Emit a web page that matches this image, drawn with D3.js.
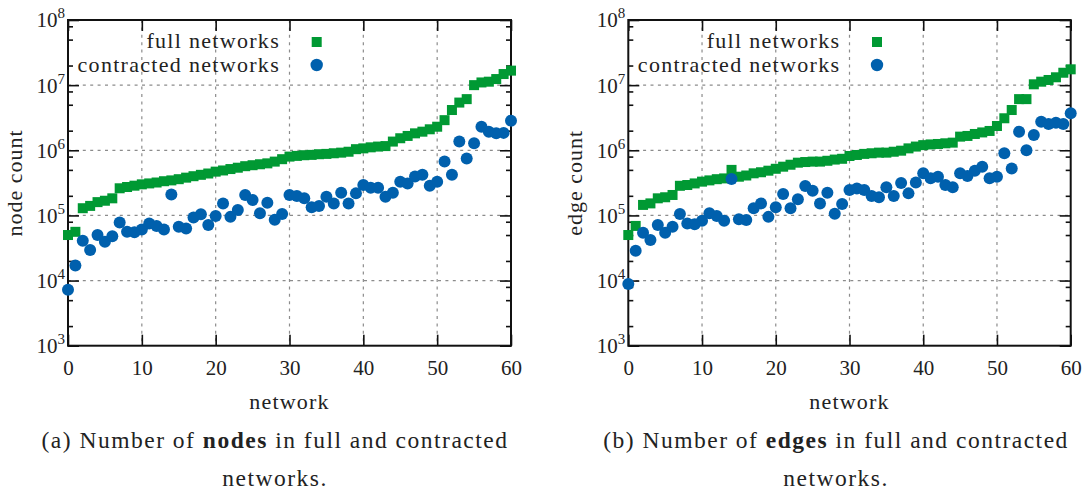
<!DOCTYPE html>
<html lang="en">
  <head>
    <meta charset="UTF-8" />
    <title>Network sizes</title>
    <style>
      body { margin: 0; background: #fff; }
      text { font-family: "Liberation Serif", "DejaVu Serif", serif; fill: #222; }
    </style>
  </head>
  <body>
    <svg id="chart" width="1085" height="495"></svg>

    <script src="https://d3js.org/d3.v7.min.js"></script>
    <script>
      // network index 0..60
      const networks = d3.range(61);

      const fullNodes = [
        5.0e4, 5.6e4, 1.29e5, 1.4e5, 1.6e5, 1.68e5, 1.83e5, 2.61e5, 2.73e5, 2.86e5,
        3.0e5, 3.1e5, 3.2e5, 3.35e5, 3.45e5, 3.6e5, 3.8e5, 4.0e5, 4.2e5, 4.4e5,
        4.7e5, 4.9e5, 5.15e5, 5.4e5, 5.7e5, 5.9e5, 6.1e5, 6.3e5, 6.7e5, 7.3e5,
        8.0e5, 8.2e5, 8.4e5, 8.5e5, 8.7e5, 8.8e5, 9.0e5, 9.2e5, 9.5e5, 1.04e6,
        1.07e6, 1.11e6, 1.14e6, 1.16e6, 1.36e6, 1.53e6, 1.66e6, 1.82e6, 1.93e6, 2.1e6,
        2.3e6, 2.9e6, 4.15e6, 5.4e6, 6.1e6, 1.0e7, 1.1e7, 1.13e7, 1.24e7, 1.48e7,
        1.67e7
      ];
      const contractedNodes = [
        7.2e3, 1.7e4, 4.1e4, 2.95e4, 5.0e4, 3.95e4, 4.8e4, 7.8e4, 5.6e4, 5.5e4,
        6.1e4, 7.5e4, 6.9e4, 6.1e4, 2.1e5, 6.7e4, 6.3e4, 9.3e4, 1.04e5, 7.1e4,
        9.8e4, 1.53e5, 9.5e4, 1.21e5, 2.06e5, 1.72e5, 1.08e5, 1.57e5, 8.6e4, 1.05e5,
        2.06e5, 1.98e5, 1.83e5, 1.33e5, 1.4e5, 1.94e5, 1.53e5, 2.23e5, 1.53e5, 2.18e5,
        2.93e5, 2.65e5, 2.65e5, 1.94e5, 2.23e5, 3.3e5, 3.1e5, 3.97e5, 4.2e5, 2.85e5,
        3.3e5, 6.7e5, 4.2e5, 1.36e6, 7.5e5, 1.28e6, 2.3e6, 1.93e6, 1.82e6, 1.85e6,
        2.85e6
      ];
      const fullEdges = [
        5.0e4, 6.9e4, 1.45e5, 1.53e5, 1.83e5, 1.9e5, 2.06e5, 2.85e5, 2.93e5, 3.1e5,
        3.3e5, 3.45e5, 3.6e5, 3.7e5, 5.0e5, 3.93e5, 4.1e5, 4.43e5, 4.6e5, 4.86e5,
        5.2e5, 5.6e5, 6.0e5, 6.45e5, 6.6e5, 6.7e5, 6.7e5, 6.9e5, 7.2e5, 7.4e5,
        8.17e5, 8.47e5, 8.8e5, 9.0e5, 9.2e5, 9.2e5, 9.5e5, 9.86e5, 1.07e6, 1.14e6,
        1.2e6, 1.23e6, 1.25e6, 1.28e6, 1.31e6, 1.62e6, 1.66e6, 1.78e6, 1.88e6, 1.98e6,
        2.36e6, 3.1e6, 4.15e6, 6.1e6, 6.1e6, 1.03e7, 1.13e7, 1.2e7, 1.32e7, 1.55e7,
        1.75e7
      ];
      const contractedEdges = [
        8.85e3, 2.88e4, 5.4e4, 4.2e4, 7.1e4, 5.4e4, 6.7e4, 1.05e5, 7.5e4, 7.3e4,
        8.3e4, 1.08e5, 9.8e4, 8.3e4, 3.62e5, 8.7e4, 8.5e4, 1.29e5, 1.53e5, 9.5e4,
        1.33e5, 2.13e5, 1.29e5, 1.77e5, 2.83e5, 2.4e5, 1.53e5, 2.23e5, 1.06e5, 1.5e5,
        2.46e5, 2.6e5, 2.46e5, 1.98e5, 1.9e5, 2.7e5, 1.98e5, 3.15e5, 2.18e5, 3.2e5,
        4.43e5, 3.72e5, 3.93e5, 2.93e5, 2.7e5, 4.43e5, 4.03e5, 4.86e5, 5.6e5, 3.72e5,
        3.93e5, 9.0e5, 5.25e5, 1.93e6, 1.0e6, 1.71e6, 2.75e6, 2.53e6, 2.65e6, 2.53e6,
        3.69e6
      ];

      const xTicks = [0, 10, 20, 30, 40, 50, 60];
      const yTicks = [1e3, 1e4, 1e5, 1e6, 1e7, 1e8];
      const yMinorSteps = [2, 5, 8];
      const seriesNames = ["full networks", "contracted networks"];

      const green = "#009933";
      const blue = "#0060ad";
      const plotTop = 20, plotBottom = 345.7;

      const svg = d3.select("#chart");
      svg.append("rect").attr("width", 1085).attr("height", 495).attr("fill", "#fff");

      const yMinor = [];
      yTicks.slice(0, -1).forEach(t => yMinorSteps.forEach(m => yMinor.push(t * m)));

      function drawPanel(left, right, full, contracted, yLabel, tag, word, capX) {
        const x = d3.scaleLinear().domain([0, 60]).range([left, right]);
        const y = d3.scaleLog().domain([1e3, 1e8]).range([plotBottom, plotTop]);
        const g = svg.append("g");

        // dashed grid
        g.selectAll(".gx")
          .data(xTicks.slice(1, -1))
          .enter()
          .append("line")
          .attr("x1", d => x(d)).attr("x2", d => x(d))
          .attr("y1", plotTop).attr("y2", plotBottom)
          .attr("stroke", "#8c8c8c").attr("stroke-width", 1.2)
          .attr("stroke-dasharray", "3,4.4");
        g.selectAll(".gy")
          .data(yTicks.slice(1, -1))
          .enter()
          .append("line")
          .attr("x1", left).attr("x2", right)
          .attr("y1", d => y(d)).attr("y2", d => y(d))
          .attr("stroke", "#8c8c8c").attr("stroke-width", 1.2)
          .attr("stroke-dasharray", "3,4.4");

        const noDomain = s => s.select(".domain").remove();

        // x axes (ticks inward)
        g.append("g")
          .attr("transform", `translate(0,${plotBottom})`)
          .call(d3.axisBottom(x).tickValues(xTicks).tickSize(-11).tickPadding(14).tickSizeOuter(0))
          .call(noDomain)
          .call(s => s.selectAll("text").style("font-size", "21px").attr("fill", "#222"));
        g.append("g")
          .attr("transform", `translate(0,${plotTop})`)
          .call(d3.axisTop(x).tickValues(xTicks).tickSize(-11).tickFormat("").tickSizeOuter(0))
          .call(noDomain);

        // y axes: major + minor, both sides
        const yl = g.append("g")
          .attr("transform", `translate(${left},0)`)
          .call(d3.axisLeft(y).tickValues(yTicks).tickSize(-11).tickPadding(3).tickSizeOuter(0))
          .call(noDomain);
        yl.selectAll("text")
          .text(null)
          .attr("dy", "0.33em")
          .style("font-size", "21px")
          .attr("fill", "#222")
          .each(function (d) {
            const t = d3.select(this);
            t.append("tspan").text("10");
            t.append("tspan").attr("dy", -9).style("font-size", "15px").text(Math.round(Math.log10(d)));
          });
        g.append("g")
          .attr("transform", `translate(${left},0)`)
          .call(d3.axisLeft(y).tickValues(yMinor).tickSize(-5).tickFormat("").tickSizeOuter(0))
          .call(noDomain);
        g.append("g")
          .attr("transform", `translate(${right},0)`)
          .call(d3.axisRight(y).tickValues(yTicks).tickSize(-11).tickFormat("").tickSizeOuter(0))
          .call(noDomain);
        g.append("g")
          .attr("transform", `translate(${right},0)`)
          .call(d3.axisRight(y).tickValues(yMinor).tickSize(-5).tickFormat("").tickSizeOuter(0))
          .call(noDomain);
        g.selectAll(".tick line").attr("stroke", "#111").attr("stroke-width", 1.6);

        // frame
        g.append("rect")
          .attr("x", left).attr("y", plotTop)
          .attr("width", right - left).attr("height", plotBottom - plotTop)
          .attr("fill", "none").attr("stroke", "#111").attr("stroke-width", 2);

        // points
        g.selectAll(".full")
          .data(networks)
          .enter()
          .append("rect")
          .attr("x", i => x(i) - 5).attr("y", i => y(full[i]) - 5)
          .attr("width", 10).attr("height", 10)
          .attr("fill", green);
        g.selectAll(".contracted")
          .data(networks)
          .enter()
          .append("circle")
          .attr("cx", i => x(i)).attr("cy", i => y(contracted[i]))
          .attr("r", 6)
          .attr("fill", blue);

        // legend
        const lg = g.append("g");
        lg.selectAll("text")
          .data(seriesNames)
          .enter()
          .append("text")
          .attr("x", left + 212)
          .attr("y", (d, i) => 48 + i * 23.5)
          .attr("text-anchor", "end")
          .style("font-size", "22px")
          .style("letter-spacing", "1.3px")
          .text(d => d);
        lg.append("rect")
          .attr("x", left + 248.7 - 5).attr("y", 42 - 5)
          .attr("width", 10).attr("height", 10).attr("fill", green);
        lg.append("circle")
          .attr("cx", left + 248.7).attr("cy", 65)
          .attr("r", 6.2).attr("fill", blue);

        // axis labels
        g.append("text")
          .attr("x", (left + right) / 2).attr("y", 409)
          .attr("text-anchor", "middle")
          .style("font-size", "22px")
          .style("letter-spacing", "1.2px")
          .text("network");
        g.append("text")
          .attr("transform", `translate(${left - 46},${(plotTop + plotBottom) / 2}) rotate(-90)`)
          .attr("text-anchor", "middle")
          .style("font-size", "22px")
          .style("letter-spacing", "1px")
          .text(yLabel);

        // caption
        const cap = g.append("text")
          .attr("x", capX).attr("y", 448)
          .attr("text-anchor", "middle")
          .style("font-size", "23.5px")
          .style("letter-spacing", "1.5px");
        cap.append("tspan").text(`(${tag}) Number of `);
        cap.append("tspan").style("font-weight", "bold").text(word);
        cap.append("tspan").text(" in full and contracted");
        g.append("text")
          .attr("x", capX).attr("y", 486)
          .attr("text-anchor", "middle")
          .style("font-size", "23.5px")
          .style("letter-spacing", "1.5px")
          .text("networks.");
      }

      drawPanel(68, 511, fullNodes, contractedNodes, "node count", "a", "nodes", 275);
      drawPanel(628.3, 1070.7, fullEdges, contractedEdges, "edge count", "b", "edges", 836);
    </script>
  </body>
</html>
